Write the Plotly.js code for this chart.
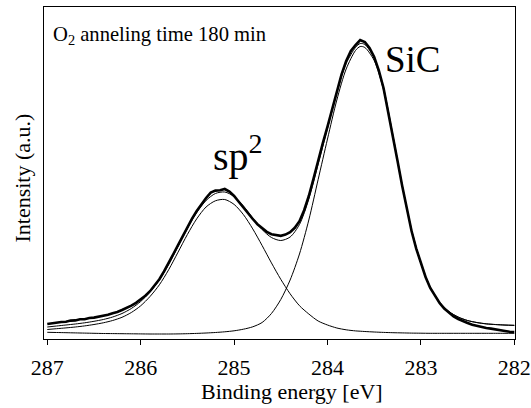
<!DOCTYPE html>
<html>
<head>
<meta charset="utf-8">
<script src="https://cdn.plot.ly/plotly-3.0.1.min.js"></script>
<style>html,body{margin:0;padding:0;background:#fff;}#chart{width:531px;height:408px;}</style>
</head>
<body>
<div id="chart"></div>
<script>
// Measured spectrum (binding energy in eV, intensity in arbitrary units)
const dataEnergy = [287.00,286.95,286.90,286.85,286.80,286.75,286.70,286.65,286.60,286.55,286.50,286.45,286.40,286.35,286.30,286.25,286.20,286.15,286.10,286.05,286.00,285.95,285.90,285.85,285.80,285.75,285.70,285.65,285.60,285.55,285.50,285.45,285.40,285.35,285.30,285.25,285.20,285.15,285.10,285.05,285.00,284.95,284.90,284.85,284.80,284.75,284.70,284.65,284.60,284.55,284.50,284.45,284.40,284.35,284.30,284.25,284.20,284.15,284.10,284.05,284.00,283.95,283.90,283.85,283.80,283.75,283.70,283.65,283.60,283.55,283.50,283.45,283.40,283.35,283.30,283.25,283.20,283.15,283.10,283.05,283.00,282.95,282.90,282.85,282.80,282.75,282.70,282.65,282.60,282.55,282.50,282.45,282.40,282.35,282.30,282.25,282.20,282.15,282.10,282.05,282.00];
const dataIntensity = [16.0,16.8,17.2,18.0,18.2,19.4,19.6,20.8,20.7,22.0,22.4,23.2,24.4,25.2,26.8,28.0,30.0,31.8,34.4,37.2,40.4,44.2,48.8,54.4,60.8,68.6,76.8,86.0,94.8,104.0,112.8,121.4,129.0,136.0,142.0,147.4,149.4,149.8,151.0,148.4,144.0,138.2,132.4,126.2,121.0,115.8,111.6,108.2,105.8,105.0,104.2,105.4,107.8,112.2,118.8,129.8,144.0,161.2,180.0,196.8,213.4,231.6,249.8,265.4,279.0,289.0,295.0,300.0,298.0,292.0,283.0,269.4,252.0,228.8,204.0,179.0,154.0,130.8,109.0,91.4,76.0,63.0,52.0,43.8,37.0,31.4,27.0,23.6,21.0,18.6,17.0,15.2,14.0,12.8,12.0,11.4,10.4,9.4,9.0,8.2,8.0];

// Fit curves
const fitEnergy = [287.0,286.9,286.8,286.7,286.6,286.5,286.4,286.3,286.2,286.1,286.0,285.9,285.8,285.7,285.6,285.5,285.4,285.3,285.2,285.1,285.0,284.9,284.8,284.7,284.6,284.5,284.4,284.3,284.2,284.1,284.0,283.9,283.8,283.7,283.65,283.6,283.5,283.4,283.3,283.2,283.1,283.0,282.9,282.8,282.7,282.6,282.5,282.4,282.3,282.2,282.1,282.0];
const envelope = [13,14,15,16,17.2,18.7,20.5,23,26.5,31.5,38.5,48,60,75.5,93.5,111.5,127.5,139.5,146.5,148,143.5,134,122,110.5,102.5,99.5,103,115.5,141,176,211.5,247.5,276.5,292.5,296.5,295.5,282,252,205,155,110.5,77,53,38,28.5,23,19.5,17.5,16.2,15.5,15,14.7];
const sp2Component = [10.5,11.3,12.1,13,14.1,15.5,17.2,19.5,22.7,27.5,34.2,43.5,55.2,70.3,87.8,105.5,121.2,133,139.2,140.5,135.6,125.4,111.1,94.5,77.1,60.7,46.2,34.3,26,19,15,12,10.2,9.1,8.8,8.5,8,7.6,7.3,7.1,6.9,6.8,6.7,6.7,6.7,6.7,6.7,6.7,6.7,6.7,6.7,6.7];
const sicComponent = [7.7,7.5,7.3,7.1,6.9,6.7,6.5,6.4,6.3,6.2,6.1,6.0,6.0,6.0,6.1,6.3,6.6,7.0,7.5,8.2,9.2,10.8,13.2,17.5,26.5,40.5,60,86,120,160.5,201,240,271,289.5,293.5,292.5,279.5,250,203.5,154,109.7,76.4,52.6,37.7,28.3,22.8,19.4,17.4,16.1,15.4,14.9,14.6];

const tickValues = [287, 286, 285, 284, 283, 282];
const tickLabels = ['287', '286', '285', '284', '283', '282'];

const serif = '"Liberation Serif", "Times New Roman", serif';
const thin = {color: '#000', width: 1, shape: 'spline', smoothing: 0.8};

const traces = [
  {x: fitEnergy, y: sicComponent, mode: 'lines', line: thin, hoverinfo: 'skip'},
  {x: fitEnergy, y: sp2Component, mode: 'lines', line: thin, hoverinfo: 'skip'},
  {x: dataEnergy, y: dataIntensity, mode: 'lines', line: {color: '#000', width: 2.6}},
  {x: fitEnergy, y: envelope, mode: 'lines', line: thin, hoverinfo: 'skip'}
];

const layout = {
  width: 531, height: 408,
  margin: {l: 44, r: 16, t: 7, b: 69, pad: 0},
  paper_bgcolor: '#fff', plot_bgcolor: '#fff',
  showlegend: false,
  font: {family: serif, color: '#000', size: 22},
  xaxis: {
    range: [287.035, 281.9925],
    tickvals: tickValues, ticktext: tickLabels,
    ticks: 'outside', ticklen: 5, tickwidth: 1, tickcolor: '#000',
    ticklabelstandoff: 4,
    showline: true, linecolor: '#000', linewidth: 1, mirror: true,
    showgrid: false, zeroline: false,
    tickfont: {family: serif, size: 22, color: '#000'}
  },
  yaxis: {
    range: [1, 333],
    showticklabels: false, ticks: '',
    showline: true, linecolor: '#000', linewidth: 1, mirror: true,
    showgrid: false, zeroline: false
  },
  annotations: [
    {text: 'O<sub>2</sub> anneling time 180 min', xref: 'paper', yref: 'paper', x: 0.0149, y: 0.9593, xanchor: 'left', yanchor: 'top', showarrow: false, font: {family: serif, size: 20.6, color: '#000'}},
    {text: 'SiC', xref: 'paper', yref: 'paper', x: 0.7197, y: 0.7732, xanchor: 'left', yanchor: 'bottom', showarrow: false, font: {family: serif, size: 37, color: '#000'}},
    {text: 'sp<sup>2</sup>', xref: 'paper', yref: 'paper', x: 0.3556, y: 0.475, xanchor: 'left', yanchor: 'bottom', showarrow: false, font: {family: serif, size: 40, color: '#000'}},
    {text: 'Binding energy [eV]', xref: 'paper', yref: 'paper', x: 0.5259, y: -0.2012, xanchor: 'center', yanchor: 'bottom', showarrow: false, font: {family: serif, size: 22, color: '#000'}},
    {text: 'Intensity (a.u.)', xref: 'paper', yref: 'paper', x: -0.0456, y: 0.485, xanchor: 'center', yanchor: 'middle', textangle: -90, showarrow: false, font: {family: serif, size: 22, color: '#000'}}
  ]
};

Plotly.newPlot('chart', traces, layout, {staticPlot: true, displayModeBar: false});
</script>
</body>
</html>
